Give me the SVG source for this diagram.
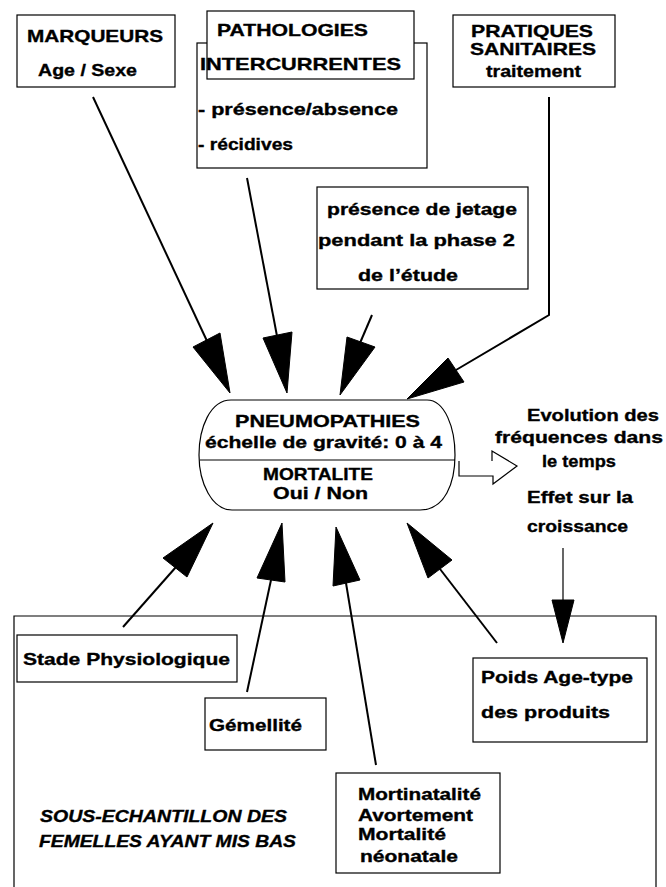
<svg xmlns="http://www.w3.org/2000/svg" width="666" height="887" viewBox="0 0 666 887">
<style>
.box{fill:none;stroke:#000;stroke-width:1.2}
.boxw{fill:#fff;stroke:#000;stroke-width:1.2}
.t{font-family:"Liberation Sans",Arial,sans-serif;font-weight:bold;font-size:17px;fill:#000;stroke:#000;stroke-width:0.35}
.ti{font-family:"Liberation Sans",Arial,sans-serif;font-weight:bold;font-style:italic;font-size:17px;fill:#000;stroke:#000;stroke-width:0.35}
.ln{fill:none;stroke:#000;stroke-width:2}
.thin{fill:none;stroke:#000;stroke-width:1.2}
.hd{fill:#000;stroke:#000;stroke-width:1}
</style>
<rect width="666" height="887" fill="#fff"/>

<g id="frame">
<path class="box" d="M14,887 V616 H656 V887"/>
</g>

<g id="connectors">
<line class="ln" x1="93" y1="97" x2="207" y2="341"/>
<polygon class="hd" points="193,347 220,333 230,393"/>
<line class="ln" x1="247" y1="178" x2="277" y2="336"/>
<polygon class="hd" points="263,338 292,332 287,393"/>
<line class="ln" x1="372" y1="315" x2="360" y2="343"/>
<polygon class="hd" points="347,337 375,347 340,395"/>
<polyline class="ln" points="549,97 549,315 456,370"/>
<polygon class="hd" points="448,358 464,382 407,399"/>

<line class="ln" x1="123" y1="627" x2="176" y2="567"/>
<polygon class="hd" points="163,558 187,577 213,523"/>
<line class="ln" x1="247" y1="692" x2="271" y2="580"/>
<polygon class="hd" points="257,578 285,582 282,523"/>
<line class="ln" x1="376" y1="765" x2="346" y2="583"/>
<polygon class="hd" points="333,586 360,580 336,527"/>
<line class="ln" x1="497" y1="643" x2="440" y2="569"/>
<polygon class="hd" points="428,578 452,560 407,523"/>

<line class="thin" x1="563" y1="548" x2="563" y2="601"/>
<polygon class="hd" points="552,600 574,600 563,643"/>
<path class="thin" d="M459,461 V476 H493 V484 L517,466 L492,451 V461"/>
</g>

<g id="marqueurs">
<rect class="box" x="17" y="15" width="158" height="72"/>
<text class="t" x="27" y="42" textLength="136" lengthAdjust="spacingAndGlyphs">MARQUEURS</text>
<text class="t" x="38" y="76" textLength="99" lengthAdjust="spacingAndGlyphs">Age / Sexe</text>
</g>

<g id="pathologies">
<rect class="box" x="197" y="43" width="230" height="125"/>
<rect class="boxw" x="207" y="11" width="207" height="68"/>
<text class="t" x="217" y="36" textLength="151" lengthAdjust="spacingAndGlyphs">PATHOLOGIES</text>
<text class="t" x="200" y="70" textLength="201" lengthAdjust="spacingAndGlyphs">INTERCURRENTES</text>
<text class="t" x="198" y="115" textLength="200" lengthAdjust="spacingAndGlyphs">- présence/absence</text>
<text class="t" x="198" y="150" textLength="95" lengthAdjust="spacingAndGlyphs">- récidives</text>
</g>

<g id="pratiques">
<rect class="box" x="453" y="15" width="162" height="72"/>
<text class="t" x="471" y="37" textLength="122" lengthAdjust="spacingAndGlyphs">PRATIQUES</text>
<text class="t" x="470" y="55" textLength="126" lengthAdjust="spacingAndGlyphs">SANITAIRES</text>
<text class="t" x="486" y="77" textLength="95" lengthAdjust="spacingAndGlyphs">traitement</text>
</g>

<g id="jetage">
<rect class="box" x="317" y="187" width="211" height="102"/>
<text class="t" x="327" y="215" textLength="190" lengthAdjust="spacingAndGlyphs">présence de jetage</text>
<text class="t" x="318" y="246" textLength="197" lengthAdjust="spacingAndGlyphs">pendant la phase 2</text>
<text class="t" x="358" y="281" textLength="100" lengthAdjust="spacingAndGlyphs">de l’étude</text>
</g>

<g id="central">
<path class="box" d="M231,400 H427 C445,400 455,428 455,455 C455,483 445,510 420,510 H232 C212,510 199,483 199,455 C199,428 210,400 231,400 Z"/>
<line class="thin" x1="200" y1="460" x2="455" y2="460"/>
<text class="t" x="235" y="427" font-size="15.5" textLength="185" lengthAdjust="spacingAndGlyphs">PNEUMOPATHIES</text>
<text class="t" x="205" y="448" font-size="15.5" textLength="237" lengthAdjust="spacingAndGlyphs">échelle de gravité: 0 à 4</text>
<text class="t" x="263" y="480" font-size="13" textLength="110" lengthAdjust="spacingAndGlyphs">MORTALITE</text>
<text class="t" x="273" y="499" font-size="13" textLength="95" lengthAdjust="spacingAndGlyphs">Oui / Non</text>
</g>

<g id="evolution">
<text class="t" x="527" y="421" textLength="132" lengthAdjust="spacingAndGlyphs">Evolution des</text>
<text class="t" x="495" y="443" textLength="168" lengthAdjust="spacingAndGlyphs">fréquences dans</text>
<text class="t" x="542" y="467" textLength="74" lengthAdjust="spacingAndGlyphs">le temps</text>
<text class="t" x="527" y="503" textLength="106" lengthAdjust="spacingAndGlyphs">Effet sur la</text>
<text class="t" x="527" y="532" textLength="101" lengthAdjust="spacingAndGlyphs">croissance</text>
</g>

<g id="stade">
<rect class="box" x="17" y="635" width="220" height="47"/>
<text class="t" x="23" y="665" textLength="207" lengthAdjust="spacingAndGlyphs">Stade Physiologique</text>
</g>

<g id="gemellite">
<rect class="box" x="205" y="698" width="121" height="52"/>
<text class="t" x="209" y="731" textLength="93" lengthAdjust="spacingAndGlyphs">Gémellité</text>
</g>

<g id="poids">
<rect class="box" x="473" y="658" width="174" height="84"/>
<text class="t" x="481" y="683" textLength="152" lengthAdjust="spacingAndGlyphs">Poids Age-type</text>
<text class="t" x="481" y="718" textLength="129" lengthAdjust="spacingAndGlyphs">des produits</text>
</g>

<g id="mortinatalite">
<rect class="box" x="336" y="773" width="164" height="100"/>
<text class="t" x="358" y="800" textLength="123" lengthAdjust="spacingAndGlyphs">Mortinatalité</text>
<text class="t" x="358" y="821" textLength="115" lengthAdjust="spacingAndGlyphs">Avortement</text>
<text class="t" x="358" y="840" textLength="88" lengthAdjust="spacingAndGlyphs">Mortalité</text>
<text class="t" x="360" y="862" textLength="98" lengthAdjust="spacingAndGlyphs">néonatale</text>
</g>

<g id="sous-echantillon">
<text class="ti" x="40" y="822" textLength="247" lengthAdjust="spacingAndGlyphs">SOUS-ECHANTILLON DES</text>
<text class="ti" x="39" y="847" textLength="257" lengthAdjust="spacingAndGlyphs">FEMELLES AYANT MIS BAS</text>
</g>
</svg>
